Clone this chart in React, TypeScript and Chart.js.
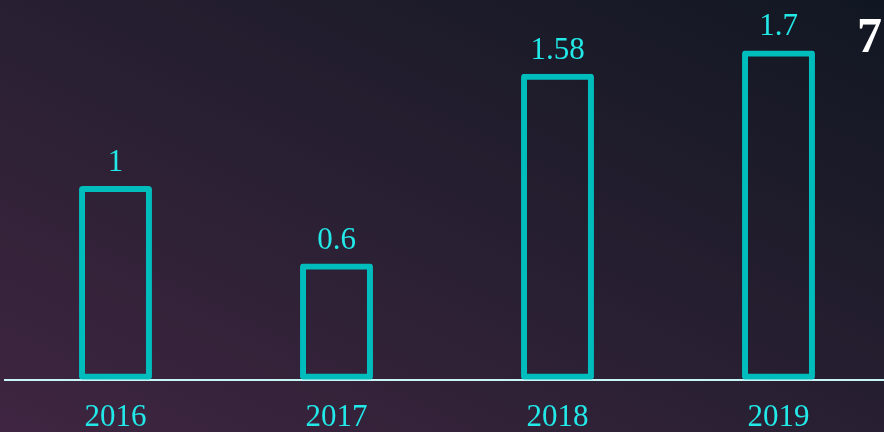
import React, { useEffect, useRef } from "react";
import { Chart, registerables } from "chart.js";

Chart.register(...registerables);

const categories = ["2016", "2017", "2018", "2019"];
const values = [1, 0.6, 1.58, 1.7];
const valueLabels = ["1", "0.6", "1.58", "1.7"];
const cornerText = "7";

const TEXT_COLOR = "#22e8e8";
const BAR_COLOR = "#00bdbd";
const FONT_FAMILY = "'Liberation Serif', 'Times New Roman', serif";

const valueLabelPlugin = {
  id: "valueLabels",
  afterDatasetsDraw(chart: any) {
    const { ctx } = chart;
    const meta = chart.getDatasetMeta(0);
    ctx.save();
    ctx.fillStyle = TEXT_COLOR;
    ctx.font = `31px ${FONT_FAMILY}`;
    ctx.textAlign = "center";
    ctx.textBaseline = "alphabetic";
    meta.data.forEach((bar: any, i: number) => {
      ctx.fillText(valueLabels[i], bar.x, bar.y - 15);
    });
    ctx.restore();
  },
};

const cornerTextPlugin = {
  id: "cornerText",
  afterDraw(chart: any) {
    const { ctx } = chart;
    ctx.save();
    ctx.fillStyle = "#ffffff";
    ctx.font = `bold 50px ${FONT_FAMILY}`;
    ctx.textAlign = "left";
    ctx.textBaseline = "alphabetic";
    ctx.fillText(cornerText, 857, 52);
    ctx.restore();
  },
};

export default function App() {
  const canvasRef = useRef<HTMLCanvasElement | null>(null);

  useEffect(() => {
    document.body.style.margin = "0";
    document.body.style.overflow = "hidden";
    const canvas = canvasRef.current;
    if (!canvas) return;
    const chart = new Chart(canvas, {
      type: "bar",
      data: {
        labels: categories,
        datasets: [
          {
            data: values,
            backgroundColor: "rgba(0,0,0,0)",
            borderColor: BAR_COLOR,
            borderWidth: 6,
            borderSkipped: false,
            borderRadius: 3,
            categoryPercentage: 1,
            barPercentage: 0.33,
          },
        ],
      },
      options: {
        animation: false,
        responsive: false,
        maintainAspectRatio: false,
        layout: { padding: { left: 5, right: 11, top: 0, bottom: 0 } },
        plugins: {
          legend: { display: false },
          tooltip: { enabled: false },
          title: { display: false },
        },
        scales: {
          x: {
            grid: { display: false, drawTicks: false },
            border: { display: true, color: "#c8f5f5", width: 2 },
            ticks: {
              color: TEXT_COLOR,
              padding: 19,
              font: { family: FONT_FAMILY, size: 31 },
            },
          },
          y: {
            display: false,
            min: 0,
            max: 1.96,
          },
        },
      },
      plugins: [valueLabelPlugin, cornerTextPlugin],
    });
    return () => chart.destroy();
  }, []);

  return (
    <div
      style={{
        position: "relative",
        width: 884,
        height: 432,
        overflow: "hidden",
        background:
          "linear-gradient(to top right, #3f2541 0%, #2a2033 45%, #111722 100%)",
      }}
    >
      <canvas
        ref={canvasRef}
        width={900}
        height={455}
        style={{ display: "block", width: 900, height: 455 }}
      />
    </div>
  );
}
